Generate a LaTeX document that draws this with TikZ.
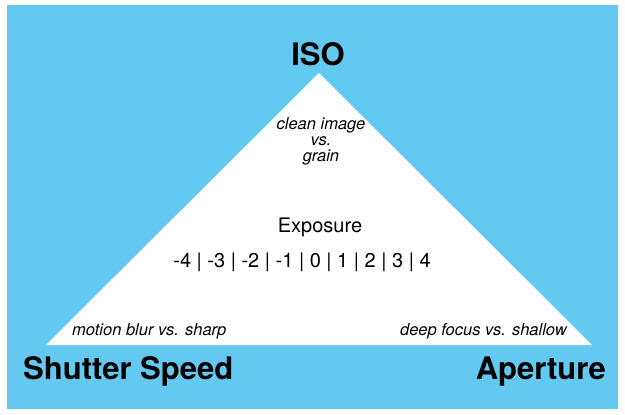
\documentclass[tikz,border=0pt]{standalone}
\usepackage{fontspec}
\setmainfont{TeX Gyre Heros}
\definecolor{skyblue}{RGB}{99,201,241}
\tikzset{
	setting/.style={font=\fontsize{31}{31}\selectfont\bfseries, inner sep=0pt},
	tradeoff/.style={font=\fontsize{16.5}{16}\selectfont\itshape, inner sep=0pt, align=center},
	meter/.style={font=\fontsize{20}{20}\selectfont, inner sep=0pt},
}

\begin{document}
\begin{tikzpicture}[x=1pt, y=-1pt]
	\useasboundingbox (0,0) rectangle (625,415);
	\fill[skyblue] (7,5) rectangle (618,409);
	% exposure triangle
	\coordinate (top) at (319,73);
	\coordinate (left) at (46,345);
	\coordinate (right) at (592,345);
	\fill[white] (left) -- (top) -- (right) -- cycle;
	\node[setting, anchor=base] (iso) at (318,65) {ISO};
	\node[setting, anchor=base west] (shutter) at (23,379) {Shutter Speed};
	\node[setting, anchor=base east] (aperture) at (606,379) {Aperture};
	\node[tradeoff, anchor=base] (grain) at (321,161) {clean image\\vs.\\grain};
	\node[tradeoff, anchor=base west] (blur) at (72,335) {motion blur vs. sharp};
	\node[tradeoff, anchor=base east] (focus) at (567,335) {deep focus vs. shallow};
	\node[meter, anchor=base] (exposure) at (320,232) {Exposure};
	\node[meter, anchor=base] (stops) at (302,267) {-4 | -3 | -2 | -1 | 0 | 1 | 2 | 3 | 4};
\end{tikzpicture}
\end{document}
